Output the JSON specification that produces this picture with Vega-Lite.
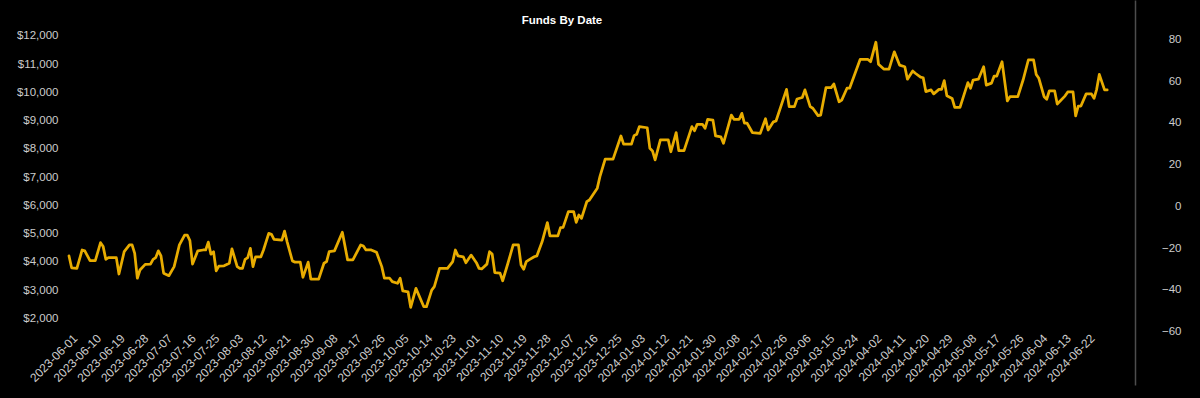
{
  "$schema": "https://vega.github.io/schema/vega-lite/v6.json",
  "width": 1066,
  "height": 385,
  "autosize": {"type": "none"},
  "padding": {"left": 69, "top": 0, "right": 65, "bottom": 13},
  "background": "#000000",
  "config": {
    "view": {"stroke": null},
    "font": "Liberation Sans",
    "axis": {"labelFont": "Liberation Sans", "labelFontSize": 11.5, "labelColor": "#cccccc", "grid": false, "ticks": false, "title": null}
  },
  "title": {"text": "Funds By Date", "color": "#ffffff", "font": "Liberation Sans", "fontSize": 11.5, "fontWeight": "bold", "anchor": "middle", "dx": -40, "offset": -26},
  "data": {"values": [
    {"date":"2023-06-01","funds":4210},{"date":"2023-06-02","funds":3790},{"date":"2023-06-04","funds":3770},{"date":"2023-06-06","funds":4420},{"date":"2023-06-07","funds":4390},{"date":"2023-06-09","funds":4040},{"date":"2023-06-11","funds":4040},{"date":"2023-06-13","funds":4680},{"date":"2023-06-14","funds":4540},{"date":"2023-06-15","funds":4090},{"date":"2023-06-16","funds":4150},{"date":"2023-06-19","funds":4150},{"date":"2023-06-20","funds":3570},{"date":"2023-06-22","funds":4360},{"date":"2023-06-24","funds":4600},{"date":"2023-06-25","funds":4600},{"date":"2023-06-26","funds":4300},{"date":"2023-06-27","funds":3420},{"date":"2023-06-28","funds":3710},{"date":"2023-06-30","funds":3910},
    {"date":"2023-07-02","funds":3920},{"date":"2023-07-03","funds":4090},{"date":"2023-07-04","funds":4150},{"date":"2023-07-05","funds":4390},{"date":"2023-07-06","funds":4210},{"date":"2023-07-07","funds":3600},{"date":"2023-07-09","funds":3510},{"date":"2023-07-11","funds":3830},{"date":"2023-07-13","funds":4600},{"date":"2023-07-15","funds":4950},{"date":"2023-07-16","funds":4950},{"date":"2023-07-17","funds":4750},{"date":"2023-07-18","funds":3920},{"date":"2023-07-20","funds":4390},{"date":"2023-07-22","funds":4420},{"date":"2023-07-23","funds":4420},{"date":"2023-07-24","funds":4700},{"date":"2023-07-25","funds":4270},{"date":"2023-07-26","funds":4360},{"date":"2023-07-27","funds":3680},{"date":"2023-07-28","funds":3850},{"date":"2023-07-30","funds":3860},
    {"date":"2023-08-01","funds":3950},{"date":"2023-08-02","funds":4460},{"date":"2023-08-04","funds":3830},{"date":"2023-08-05","funds":3770},{"date":"2023-08-06","funds":3770},{"date":"2023-08-07","funds":4090},{"date":"2023-08-08","funds":4150},{"date":"2023-08-09","funds":4480},{"date":"2023-08-10","funds":3830},{"date":"2023-08-11","funds":4180},{"date":"2023-08-13","funds":4180},{"date":"2023-08-14","funds":4420},{"date":"2023-08-16","funds":5010},{"date":"2023-08-17","funds":4980},{"date":"2023-08-18","funds":4800},{"date":"2023-08-21","funds":4770},{"date":"2023-08-22","funds":5090},{"date":"2023-08-23","funds":4710},{"date":"2023-08-25","funds":4030},{"date":"2023-08-26","funds":3990},{"date":"2023-08-28","funds":3990},{"date":"2023-08-29","funds":3450},{"date":"2023-08-31","funds":3990},
    {"date":"2023-09-01","funds":3390},{"date":"2023-09-04","funds":3390},{"date":"2023-09-06","funds":3950},{"date":"2023-09-07","funds":4010},{"date":"2023-09-08","funds":4360},{"date":"2023-09-10","funds":4390},{"date":"2023-09-13","funds":5050},{"date":"2023-09-15","funds":4070},{"date":"2023-09-17","funds":4070},{"date":"2023-09-20","funds":4600},{"date":"2023-09-21","funds":4560},{"date":"2023-09-22","funds":4420},{"date":"2023-09-24","funds":4420},{"date":"2023-09-26","funds":4340},{"date":"2023-09-28","funds":3830},{"date":"2023-09-29","funds":3420},
    {"date":"2023-10-01","funds":3420},{"date":"2023-10-02","funds":3300},{"date":"2023-10-04","funds":3240},{"date":"2023-10-05","funds":3420},{"date":"2023-10-06","funds":2970},{"date":"2023-10-08","funds":2940},{"date":"2023-10-09","funds":2390},{"date":"2023-10-11","funds":3060},{"date":"2023-10-14","funds":2410},{"date":"2023-10-15","funds":2410},{"date":"2023-10-17","funds":3000},{"date":"2023-10-18","funds":3120},{"date":"2023-10-20","funds":3770},{"date":"2023-10-23","funds":3770},{"date":"2023-10-25","funds":4010},{"date":"2023-10-26","funds":4420},{"date":"2023-10-27","funds":4210},{"date":"2023-10-29","funds":4180},{"date":"2023-10-30","funds":3970},
    {"date":"2023-11-01","funds":4240},{"date":"2023-11-03","funds":3970},{"date":"2023-11-04","funds":3770},{"date":"2023-11-05","funds":3750},{"date":"2023-11-07","funds":3920},{"date":"2023-11-08","funds":4360},{"date":"2023-11-09","funds":4280},{"date":"2023-11-10","funds":3620},{"date":"2023-11-12","funds":3600},{"date":"2023-11-13","funds":3330},{"date":"2023-11-15","funds":3950},{"date":"2023-11-17","funds":4600},{"date":"2023-11-19","funds":4600},{"date":"2023-11-20","funds":3890},{"date":"2023-11-21","funds":3740},{"date":"2023-11-22","funds":4010},{"date":"2023-11-23","funds":4070},{"date":"2023-11-25","funds":4180},{"date":"2023-11-26","funds":4210},{"date":"2023-11-28","funds":4710},{"date":"2023-11-30","funds":5390},
    {"date":"2023-12-01","funds":4920},{"date":"2023-12-04","funds":4920},{"date":"2023-12-05","funds":5210},{"date":"2023-12-06","funds":5220},{"date":"2023-12-08","funds":5780},{"date":"2023-12-10","funds":5780},{"date":"2023-12-11","funds":5400},{"date":"2023-12-12","funds":5660},{"date":"2023-12-13","funds":5540},{"date":"2023-12-15","funds":6130},{"date":"2023-12-16","funds":6190},{"date":"2023-12-19","funds":6610},{"date":"2023-12-20","funds":7020},{"date":"2023-12-22","funds":7640},{"date":"2023-12-25","funds":7640},{"date":"2023-12-28","funds":8460},{"date":"2023-12-29","funds":8170},
    {"date":"2024-01-01","funds":8170},{"date":"2024-01-02","funds":8470},{"date":"2024-01-03","funds":8520},{"date":"2024-01-04","funds":8790},{"date":"2024-01-07","funds":8750},{"date":"2024-01-08","funds":8020},{"date":"2024-01-09","funds":7930},{"date":"2024-01-10","funds":7610},{"date":"2024-01-12","funds":8320},{"date":"2024-01-15","funds":8320},{"date":"2024-01-16","funds":7900},{"date":"2024-01-18","funds":8580},{"date":"2024-01-19","funds":7940},{"date":"2024-01-21","funds":7940},{"date":"2024-01-24","funds":8790},{"date":"2024-01-25","funds":8640},{"date":"2024-01-26","funds":8870},{"date":"2024-01-28","funds":8870},{"date":"2024-01-29","funds":8730},{"date":"2024-01-30","funds":9050},
    {"date":"2024-02-01","funds":9020},{"date":"2024-02-02","funds":8460},{"date":"2024-02-04","funds":8430},{"date":"2024-02-05","funds":8200},{"date":"2024-02-08","funds":9200},{"date":"2024-02-09","funds":9050},{"date":"2024-02-11","funds":9050},{"date":"2024-02-12","funds":9260},{"date":"2024-02-13","funds":8910},{"date":"2024-02-14","funds":8910},{"date":"2024-02-16","funds":8580},{"date":"2024-02-19","funds":8550},{"date":"2024-02-21","funds":9070},{"date":"2024-02-22","funds":8670},{"date":"2024-02-24","funds":8960},{"date":"2024-02-25","funds":8990},{"date":"2024-02-29","funds":10110},
    {"date":"2024-03-01","funds":9500},{"date":"2024-03-03","funds":9500},{"date":"2024-03-04","funds":9770},{"date":"2024-03-06","funds":9820},{"date":"2024-03-07","funds":10090},{"date":"2024-03-09","funds":9500},{"date":"2024-03-10","funds":9440},{"date":"2024-03-12","funds":9180},{"date":"2024-03-13","funds":9200},{"date":"2024-03-15","funds":10170},{"date":"2024-03-17","funds":10170},{"date":"2024-03-18","funds":10300},{"date":"2024-03-20","funds":9670},{"date":"2024-03-21","funds":9730},{"date":"2024-03-23","funds":10150},{"date":"2024-03-24","funds":10150},{"date":"2024-03-28","funds":11170},{"date":"2024-03-31","funds":11170},
    {"date":"2024-04-01","funds":11090},{"date":"2024-04-03","funds":11780},{"date":"2024-04-04","funds":11000},{"date":"2024-04-06","funds":10830},{"date":"2024-04-08","funds":10830},{"date":"2024-04-10","funds":11440},{"date":"2024-04-12","funds":10970},{"date":"2024-04-14","funds":10910},{"date":"2024-04-15","funds":10470},{"date":"2024-04-17","funds":10760},{"date":"2024-04-18","funds":10680},{"date":"2024-04-20","funds":10540},{"date":"2024-04-21","funds":10520},{"date":"2024-04-22","funds":10030},{"date":"2024-04-24","funds":10090},{"date":"2024-04-25","funds":9950},{"date":"2024-04-27","funds":10110},{"date":"2024-04-28","funds":10110},{"date":"2024-04-29","funds":10420},{"date":"2024-04-30","funds":9880},
    {"date":"2024-05-02","funds":9790},{"date":"2024-05-03","funds":9470},{"date":"2024-05-05","funds":9470},{"date":"2024-05-08","funds":10350},{"date":"2024-05-09","funds":10150},{"date":"2024-05-10","funds":10440},{"date":"2024-05-12","funds":10470},{"date":"2024-05-14","funds":10910},{"date":"2024-05-15","funds":10260},{"date":"2024-05-17","funds":10330},{"date":"2024-05-18","funds":10580},{"date":"2024-05-19","funds":10580},{"date":"2024-05-21","funds":11090},{"date":"2024-05-23","funds":9700},{"date":"2024-05-24","funds":9850},{"date":"2024-05-27","funds":9850},{"date":"2024-05-29","funds":10440},{"date":"2024-05-31","funds":11150},
    {"date":"2024-06-02","funds":11150},{"date":"2024-06-03","funds":10640},{"date":"2024-06-04","funds":10500},{"date":"2024-06-06","funds":9850},{"date":"2024-06-07","funds":9760},{"date":"2024-06-08","funds":10060},{"date":"2024-06-10","funds":10060},{"date":"2024-06-11","funds":9590},{"date":"2024-06-14","funds":9880},{"date":"2024-06-15","funds":10020},{"date":"2024-06-17","funds":10020},{"date":"2024-06-18","funds":9170},{"date":"2024-06-19","funds":9520},{"date":"2024-06-20","funds":9520},{"date":"2024-06-22","funds":9950},{"date":"2024-06-24","funds":9950},{"date":"2024-06-25","funds":9790},{"date":"2024-06-26","funds":10110},{"date":"2024-06-27","funds":10640},{"date":"2024-06-29","funds":10090},{"date":"2024-06-30","funds":10090}
  ]},
  "encoding": {
    "x": {
      "field": "date", "type": "temporal",
      "scale": {"type": "utc", "domain": [{"year": 2023, "month": 6, "date": 1, "utc": true}, {"year": 2024, "month": 7, "date": 10, "hours": 14, "utc": true}]},
      "axis": {
        "orient": "bottom", "domain": false, "offset": -53, "labelAngle": -45, "labelAlign": "right", "labelBaseline": "middle", "labelPadding": 4, "labelOffset": 6, "labelFontSize": 12, "format": "%Y-%m-%d", "labelOverlap": false,
        "values": [
          {"year":2023,"month":6,"date":1,"utc":true},{"year":2023,"month":6,"date":10,"utc":true},{"year":2023,"month":6,"date":19,"utc":true},{"year":2023,"month":6,"date":28,"utc":true},
          {"year":2023,"month":7,"date":7,"utc":true},{"year":2023,"month":7,"date":16,"utc":true},{"year":2023,"month":7,"date":25,"utc":true},
          {"year":2023,"month":8,"date":3,"utc":true},{"year":2023,"month":8,"date":12,"utc":true},{"year":2023,"month":8,"date":21,"utc":true},{"year":2023,"month":8,"date":30,"utc":true},
          {"year":2023,"month":9,"date":8,"utc":true},{"year":2023,"month":9,"date":17,"utc":true},{"year":2023,"month":9,"date":26,"utc":true},
          {"year":2023,"month":10,"date":5,"utc":true},{"year":2023,"month":10,"date":14,"utc":true},{"year":2023,"month":10,"date":23,"utc":true},
          {"year":2023,"month":11,"date":1,"utc":true},{"year":2023,"month":11,"date":10,"utc":true},{"year":2023,"month":11,"date":19,"utc":true},{"year":2023,"month":11,"date":28,"utc":true},
          {"year":2023,"month":12,"date":7,"utc":true},{"year":2023,"month":12,"date":16,"utc":true},{"year":2023,"month":12,"date":25,"utc":true},
          {"year":2024,"month":1,"date":3,"utc":true},{"year":2024,"month":1,"date":12,"utc":true},{"year":2024,"month":1,"date":21,"utc":true},{"year":2024,"month":1,"date":30,"utc":true},
          {"year":2024,"month":2,"date":8,"utc":true},{"year":2024,"month":2,"date":17,"utc":true},{"year":2024,"month":2,"date":26,"utc":true},
          {"year":2024,"month":3,"date":6,"utc":true},{"year":2024,"month":3,"date":15,"utc":true},{"year":2024,"month":3,"date":24,"utc":true},
          {"year":2024,"month":4,"date":2,"utc":true},{"year":2024,"month":4,"date":11,"utc":true},{"year":2024,"month":4,"date":20,"utc":true},{"year":2024,"month":4,"date":29,"utc":true},
          {"year":2024,"month":5,"date":8,"utc":true},{"year":2024,"month":5,"date":17,"utc":true},{"year":2024,"month":5,"date":26,"utc":true},
          {"year":2024,"month":6,"date":4,"utc":true},{"year":2024,"month":6,"date":13,"utc":true},{"year":2024,"month":6,"date":22,"utc":true}
        ]
      }
    }
  },
  "layer": [
    {
      "mark": {"type": "line", "color": "#e8ac00", "strokeWidth": 2.75, "strokeJoin": "round", "strokeCap": "round"},
      "encoding": {
        "y": {
          "field": "funds", "type": "quantitative",
          "scale": {"domain": [-362, 13275], "nice": false, "zero": false},
          "axis": {"orient": "left", "domain": false, "labelPadding": 11, "format": "$,.0f", "values": [2000, 3000, 4000, 5000, 6000, 7000, 8000, 9000, 10000, 11000, 12000]}
        }
      }
    },
    {
      "mark": {"type": "rule", "opacity": 0},
      "encoding": {
        "y": {
          "datum": 0, "type": "quantitative",
          "scale": {"domain": [-85.5, 98.8], "nice": false, "zero": false},
          "axis": {"orient": "right", "domain": true, "domainColor": "#4d4d4d", "domainWidth": 1.5, "labelAlign": "right", "labelPadding": 46, "format": "d", "values": [-60, -40, -20, 0, 20, 40, 60, 80]}
        }
      }
    }
  ],
  "resolve": {"scale": {"y": "independent"}, "axis": {"y": "independent"}}
}
